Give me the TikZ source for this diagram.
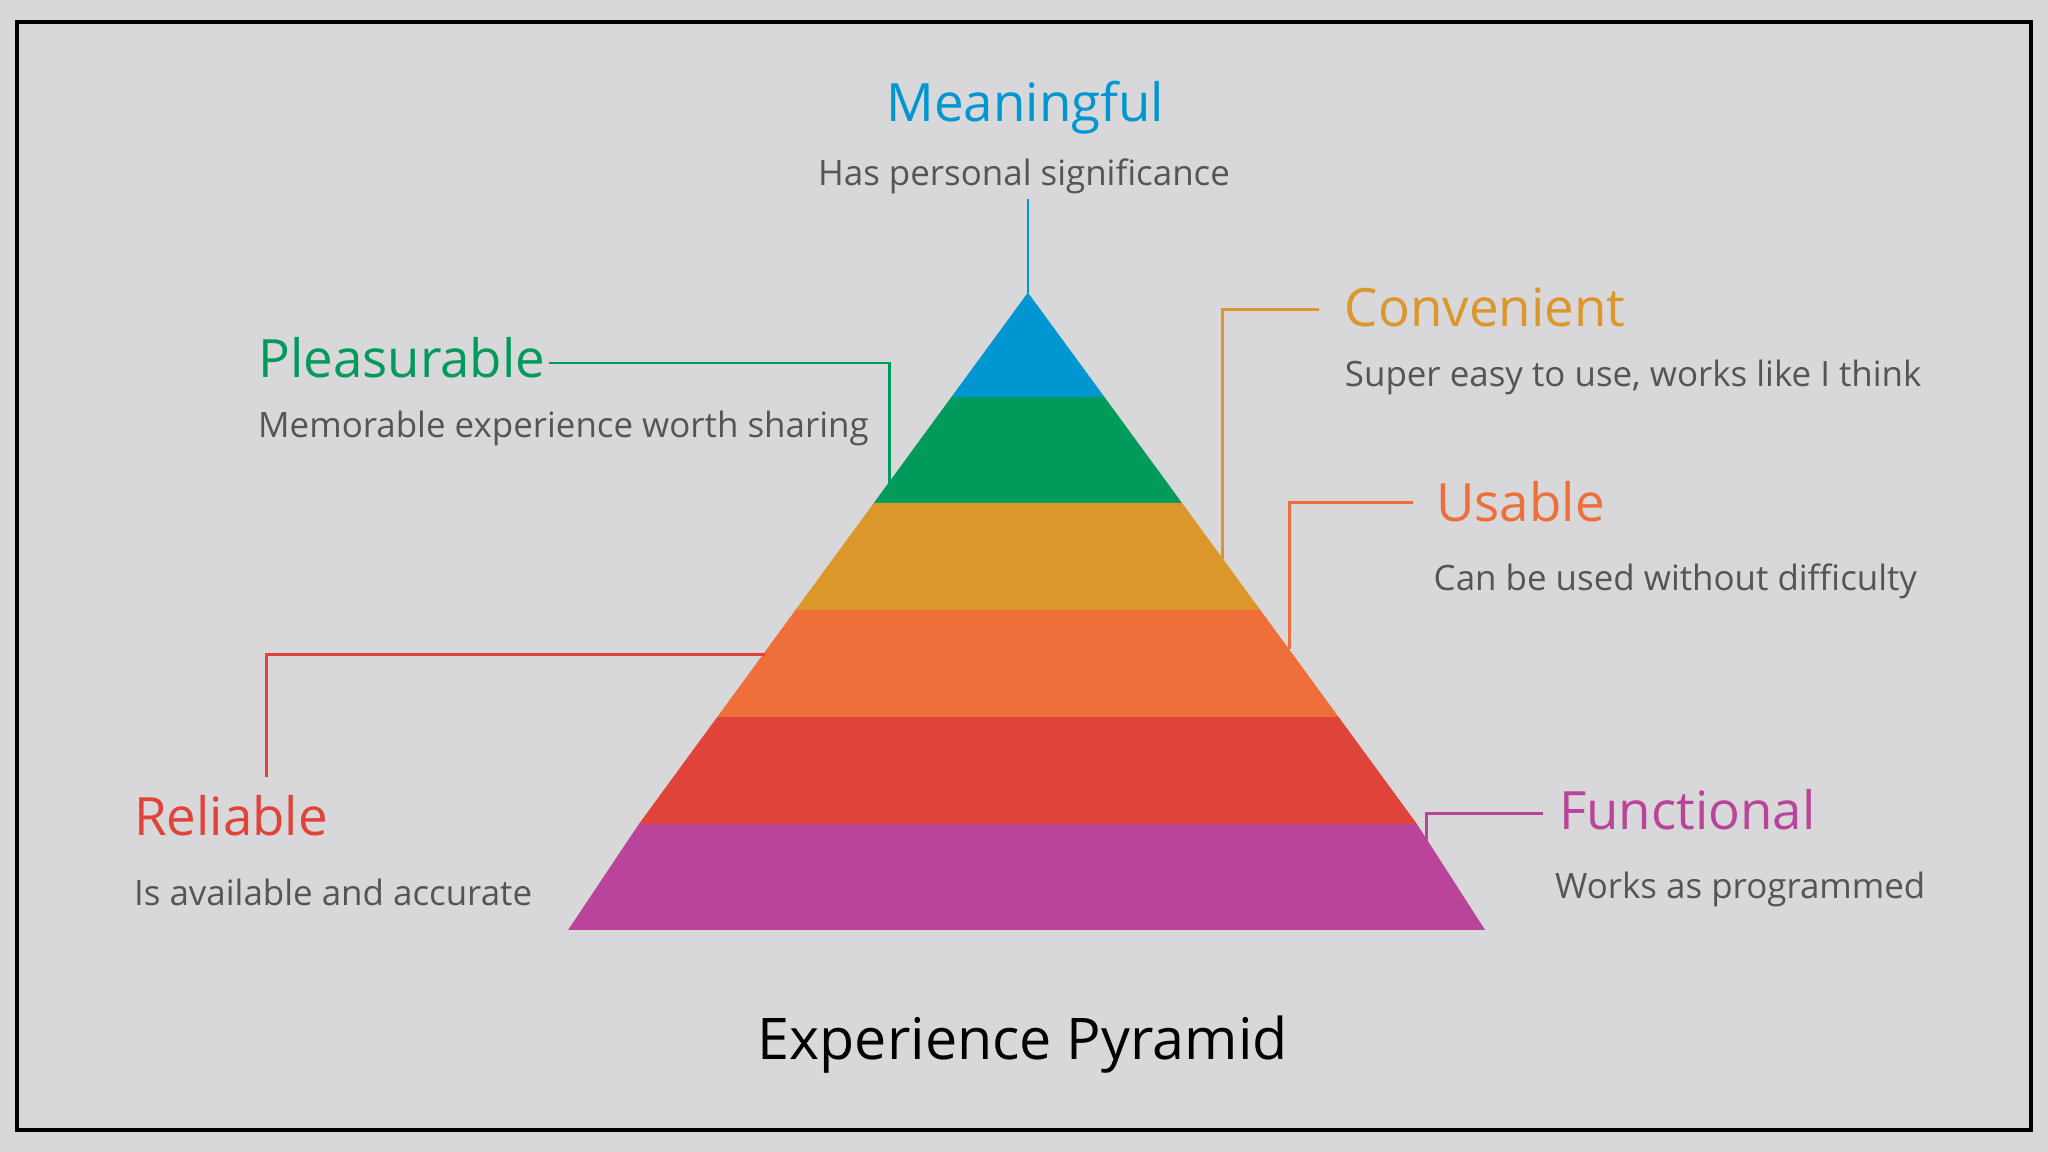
\documentclass[tikz,border=0pt]{standalone}
\usepackage{fontspec}
\setmainfont{Open Sans}
\definecolor{bg}{HTML}{D8D7DA}
\definecolor{cblue}{HTML}{0096D1}
\definecolor{cgreen}{HTML}{009A5B}
\definecolor{cyell}{HTML}{DB9729}
\definecolor{corange}{HTML}{EE6F3A}
\definecolor{cred}{HTML}{E04339}
\definecolor{cmag}{HTML}{BA4499}
\definecolor{subg}{HTML}{555555}
\begin{document}
\begin{tikzpicture}[x=0.01cm,y=-0.01cm,
  head/.style={font=\fontsize{11.5}{13}\selectfont,inner sep=0pt},
  sub/.style={font=\fontsize{7.6}{9}\selectfont,text=subg,inner sep=0pt},
  lead/.style={line width=0.6pt}]
\fill[bg] (0,0) rectangle (1568,882);
\useasboundingbox (0,0) rectangle (1568,882);
\draw[line width=0.8pt] (13,17) rectangle (1555,865);
% pyramid
\coordinate (apex) at (787,224);
\fill[cblue] (787,224) -- (845.6,304) -- (728.4,304) -- cycle;
\fill[cgreen] (728.4,304) -- (845.6,304) -- (904.9,385) -- (669.1,385) -- cycle;
\fill[cyell] (669.1,385) -- (904.9,385) -- (964.9,467) -- (609.1,467) -- cycle;
\fill[corange] (609.1,467) -- (964.9,467) -- (1024.9,549) -- (549.1,549) -- cycle;
\fill[cred] (549.1,549) -- (1024.9,549) -- (1084.9,631) -- (489.1,631) -- cycle;
\fill[cmag] (489.1,631) -- (1084.9,631) -- (1137,712) -- (435,712) -- cycle;
% texts
\node[head,text=cblue,anchor=base] (mh) at (785,93) {Meaningful};
\node[sub,anchor=base] (ms) at (784,142) {Has personal significance};
\node[head,text=cgreen,anchor=base west] (ph) at (197,289) {Pleasurable};
\node[sub,anchor=base west] (ps) at (197,335) {Memorable experience worth sharing};
\node[head,text=cyell,anchor=base west] (ch) at (1029,250) {Convenient};
\node[sub,anchor=base west] (cs) at (1029,296) {Super easy to use, works like I think};
\node[head,text=corange,anchor=base west] (uh) at (1099,399) {Usable};
\node[sub,anchor=base west] (us) at (1097,452) {Can be used without difficulty};
\node[head,text=cred,anchor=base west] (rh) at (102,640) {Reliable};
\node[sub,anchor=base west] (rs) at (102,693) {Is available and accurate};
\node[head,text=cmag,anchor=base west] (fh) at (1193,635) {Functional};
\node[sub,anchor=base west] (fs) at (1190,688) {Works as programmed};
\node[font=\fontsize{12.5}{14}\selectfont,anchor=base,inner sep=0pt] (title) at (783,811) {Experience Pyramid};
% leaders
\draw[lead,cblue] (787,152) -- (apex);
\draw[lead,cgreen] (420,278) -| (681,370);
\draw[lead,cyell] (1010,237) -| (936,428);
\draw[lead,corange] (1082,385) -| (987,497);
\draw[lead,cred] (204,595) |- (586,501);
\draw[lead,cmag] (1181,623) -| (1092,645);
\end{tikzpicture}
\end{document}
